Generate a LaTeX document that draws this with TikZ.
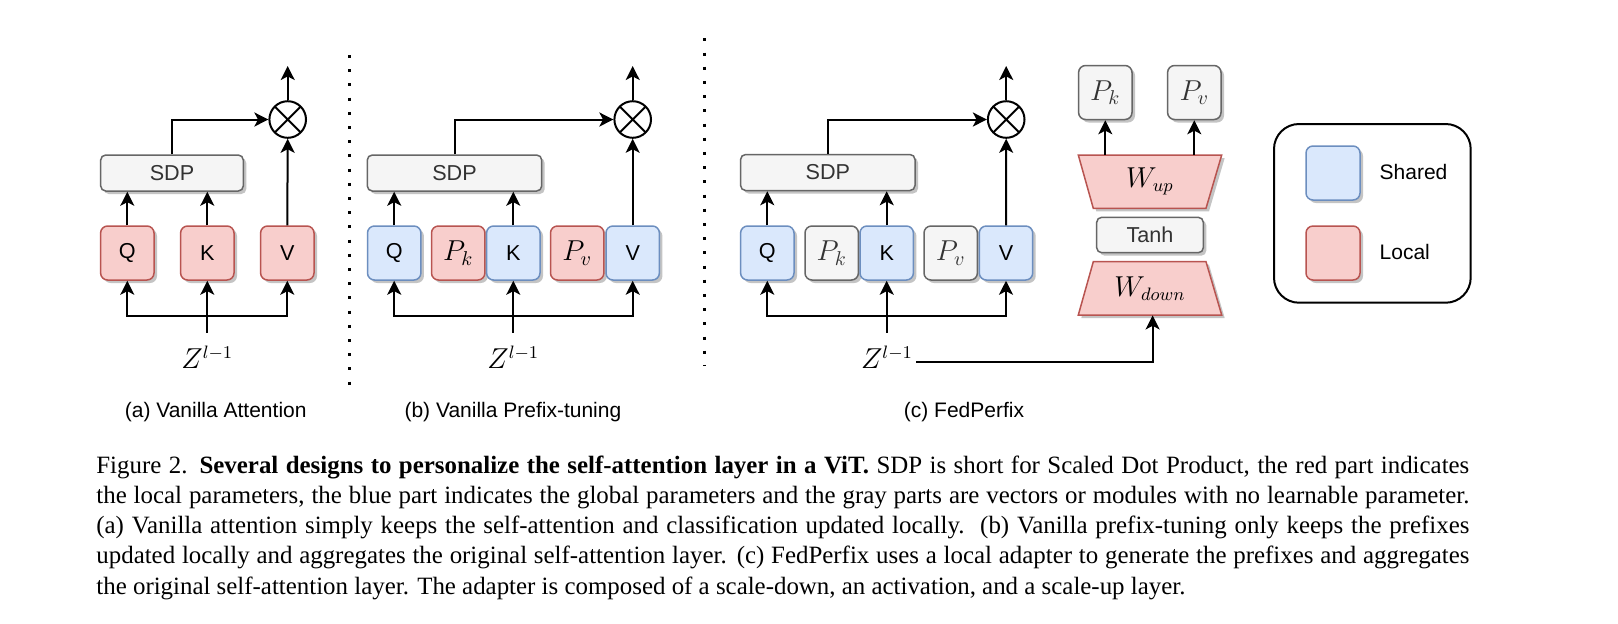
\documentclass[tikz,border=0pt]{standalone}
\usepackage{fontspec}
\setmainfont{Liberation Serif}
\setsansfont{Liberation Sans}
\usetikzlibrary{arrows.meta,shadows,calc}
\definecolor{redfill}{HTML}{F8CECC}
\definecolor{redline}{HTML}{B85450}
\definecolor{bluefill}{HTML}{DAE8FC}
\definecolor{blueline}{HTML}{6C8EBF}
\definecolor{grayfill}{HTML}{F5F5F5}
\definecolor{grayline}{HTML}{666666}
\definecolor{graytext}{HTML}{333333}
\definecolor{shadowc}{HTML}{C4C4C4}
\begin{document}
\begin{tikzpicture}[x=0.5pt,y=-0.5pt,
  sh/.style={drop shadow={shadow xshift=1.5pt,shadow yshift=-1.5pt,fill=shadowc,opacity=1}},
  sans/.style={font=\sffamily\fontsize{10.8}{12}\selectfont},
  box/.style={sans,rounded corners=3.5pt,minimum width=26.7pt,minimum height=27pt,inner sep=0pt,line width=0.75pt,sh},
  redbox/.style={box,fill=redfill,draw=redline},
  bluebox/.style={box,fill=bluefill,draw=blueline},
  graybox/.style={box,fill=grayfill,draw=grayline,text=graytext},
  sdpbox/.style={sans,rounded corners=2.5pt,minimum width=87.2pt,minimum height=18pt,inner sep=0pt,fill=grayfill,draw=grayline,text=graytext,line width=0.75pt,sh},
  mult/.style={circle,draw,line width=1pt,minimum size=18.3pt,inner sep=0pt,
    path picture={\draw[line width=1pt] (path picture bounding box.north west) -- (path picture bounding box.south east) (path picture bounding box.north east) -- (path picture bounding box.south west);}},
  arr/.style={line width=1pt,-{Stealth[length=7pt,width=7pt,inset=1.8pt]}},
  mth/.style={font=\fontsize{14}{16}\selectfont},
  wlab/.style={font=\fontsize{13.5}{16}\selectfont},
  zlab/.style={font=\fontsize{13.5}{16}\selectfont,inner sep=1.5pt},
  sep/.style={line width=1.5pt,dash pattern=on 1.5pt off 5.6pt},
  sublab/.style={font=\sffamily\fontsize{10.5}{12}\selectfont}
]
\path[fill=white,use as bounding box] (0,0) rectangle (1618,623);

% separators
\draw[sep] (349,55) -- (349,394);
\draw[sep] (704.3,38.3) -- (704.3,366);

% ---------- (a) ----------
\node[sdpbox,minimum width=71.3pt] (sdpA) at (172,173) {SDP};
\node[redbox] (qA) at (127.3,253) {Q};
\node[redbox] (kA) at (207.3,253) {K};
\node[redbox] (vA) at (287.3,253) {V};
\node[mult] (mA) at (287.7,119.5) {};
\coordinate (outA) at (287.7,66);
\coordinate (bA) at (207.3,315.7);
\coordinate (zinA) at (207.3,332.7);
\node[zlab] (zA) at (207.3,357.5) {$Z^{l-1}$};
\draw[arr] (mA.north) -- (outA);
\draw[arr] (sdpA.north) |- (mA.west);
\draw[arr] (vA.north) -- (mA.south);
\draw[arr] (qA.north) -- (qA.north |- sdpA.south);
\draw[arr] (kA.north) -- (kA.north |- sdpA.south);
\draw[arr] (bA) -| (qA.south);
\draw[arr] (bA) -| (vA.south);
\draw[arr] (zinA) -- (kA.south);
\node[sublab] (labA) at (215.7,412) {(a) Vanilla Attention};

% ---------- (b) ----------
\node[sdpbox] (sdpB) at (454.5,173) {SDP};
\node[bluebox] (qB) at (394.2,253) {Q};
\node[redbox,mth] (pkB) at (458.2,253) {$P_k$};
\node[bluebox] (kB) at (513.3,253) {K};
\node[redbox,mth] (pvB) at (577.2,253) {$P_v$};
\node[bluebox] (vB) at (632.7,253) {V};
\node[mult] (mB) at (632.7,119.5) {};
\coordinate (outB) at (632.7,66);
\coordinate (bB) at (513.3,315.7);
\coordinate (zinB) at (513.3,332.7);
\node[zlab] (zB) at (513.3,357.5) {$Z^{l-1}$};
\draw[arr] (mB.north) -- (outB);
\draw[arr] (sdpB.north) |- (mB.west);
\draw[arr] (vB.north) -- (mB.south);
\draw[arr] (qB.north) -- (qB.north |- sdpB.south);
\draw[arr] (kB.north) -- (kB.north |- sdpB.south);
\draw[arr] (bB) -| (qB.south);
\draw[arr] (bB) -| (vB.south);
\draw[arr] (zinB) -- (kB.south);
\node[sublab] (labB) at (512.9,412) {(b) Vanilla Prefix-tuning};

% ---------- (c) ----------
\node[sdpbox] (sdpC) at (827.8,172.5) {SDP};
\node[bluebox] (qC) at (767.3,253) {Q};
\node[graybox,mth] (pkC) at (831.7,253) {$P_k$};
\node[bluebox] (kC) at (886.7,253) {K};
\node[graybox,mth] (pvC) at (950.7,253) {$P_v$};
\node[bluebox] (vC) at (1006,253) {V};
\node[mult] (mC) at (1006.2,119.5) {};
\coordinate (outC) at (1006.2,66);
\coordinate (bC) at (886.7,315.7);
\coordinate (zinC) at (886.7,332.7);
\node[zlab] (zC) at (887,357.5) {$Z^{l-1}$};
\draw[arr] (mC.north) -- (outC);
\draw[arr] (sdpC.north) |- (mC.west);
\draw[arr] (vC.north) -- (mC.south);
\draw[arr] (qC.north) -- (qC.north |- sdpC.south);
\draw[arr] (kC.north) -- (kC.north |- sdpC.south);
\draw[arr] (bC) -| (qC.south);
\draw[arr] (bC) -| (vC.south);
\draw[arr] (zinC) -- (kC.south);
\node[sublab] (labC) at (964,412) {(c) FedPerfix};

% adapter
\node[graybox,mth] (pkT) at (1105.3,92.5) {$P_k$};
\node[graybox,mth] (pvT) at (1194.3,92.5) {$P_v$};
\fill[shadowc] (1081.3,158) -- (1224.7,158) -- (1209,211.3) -- (1096.3,211.3) -- cycle;
\draw[fill=redfill,draw=redline,line width=0.75pt] (1078.3,155) -- (1221.7,155) -- (1206,208.3) -- (1093.3,208.3) -- cycle;
\node[wlab,minimum width=71.7pt,minimum height=26.65pt,inner sep=0pt] (wup) at (1150,181.7) {$W_{up}$};
\node[graybox,minimum width=53.3pt,minimum height=17.7pt,rounded corners=2.5pt] (tanh) at (1150,235) {Tanh};
\fill[shadowc] (1096.3,264.7) -- (1209,264.7) -- (1224.7,318) -- (1081.3,318) -- cycle;
\draw[fill=redfill,draw=redline,line width=0.75pt] (1093.3,261.7) -- (1206,261.7) -- (1221.7,315) -- (1078.3,315) -- cycle;
\node[wlab,minimum width=71.7pt,minimum height=26.65pt,inner sep=0pt] (wdown) at (1150,288.35) {$W_{down}$};
\draw[arr] (pkT.south |- wup.north) -- (pkT.south);
\draw[arr] (pvT.south |- wup.north) -- (pvT.south);
\draw[arr] ([yshift=-2.35pt]zC.east) -| ([xshift=1.3pt]wdown.south);

% legend
\node[draw,line width=1pt,rounded corners=12.5pt,minimum width=98.35pt,minimum height=89.35pt,inner sep=0pt] (legend) at (1372.35,213.35) {};
\node[bluebox,minimum width=27pt] (shs) at (1333,173) {};
\node[redbox,minimum width=27pt] (los) at (1333,253) {};
\node[sublab,anchor=west,inner sep=0pt] (sht) at (1379.3,172) {Shared};
\node[sublab,anchor=west,inner sep=0pt] (lot) at (1379.3,252) {Local};

% caption (anchor = baseline of last line)
\node[anchor=base west,inner sep=0pt,align=left,font=\fontsize{12.45}{15.1}\selectfont] (cap) at (96,594) {%
\makebox[686.5pt][s]{Figure 2. \textbf{Several designs to personalize the self-attention layer in a ViT.} SDP is short for Scaled Dot Product, the red part indicates}\\
\makebox[686.5pt][s]{the local parameters, the blue part indicates the global parameters and the gray parts are vectors or modules with no learnable parameter.}\\
\makebox[686.5pt][s]{(a) Vanilla attention simply keeps the self-attention and classification updated locally.\ \ (b) Vanilla prefix-tuning only keeps the prefixes}\\
\makebox[686.5pt][s]{updated locally and aggregates the original self-attention layer. (c) FedPerfix uses a local adapter to generate the prefixes and aggregates}\\
the original self-attention layer. The adapter is composed of a scale-down, an activation, and a scale-up layer.};
\end{tikzpicture}
\end{document}
